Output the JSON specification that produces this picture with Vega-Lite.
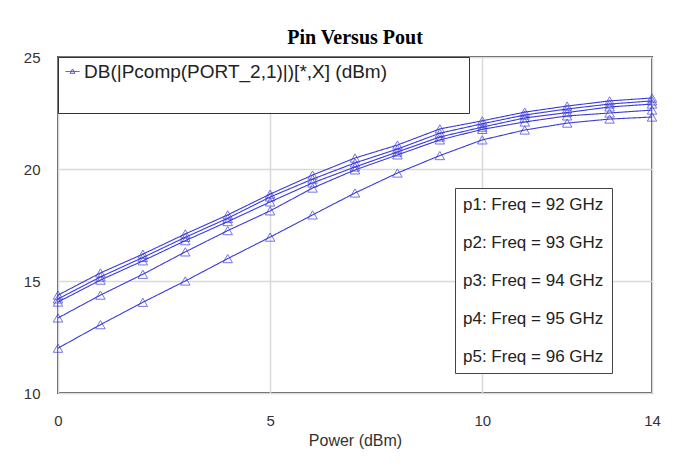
{
  "$schema": "https://vega.github.io/schema/vega-lite/v6.json",
  "autosize": {"type": "none"},
  "width": 594,
  "height": 336,
  "padding": {"left": 58, "top": 57, "right": 28, "bottom": 75},
  "background": "white",
  "title": {"text": "Pin Versus Pout", "font": "Liberation Serif", "fontSize": 20, "fontWeight": "bold", "color": "#000", "offset": 2, "anchor": "middle"},
  "config": {
    "view": {"stroke": "#555", "strokeWidth": 2},
    "axis": {"domain": false, "ticks": false, "tickSize": 0, "grid": true, "gridColor": "#d9d9d9", "gridWidth": 1.5, "labelFont": "Liberation Sans", "labelFontSize": 15, "labelColor": "#333", "titleFont": "Liberation Sans", "titleFontSize": 16, "titleFontWeight": "normal", "titleColor": "#333"}
  },
  "data": {"values": [
    {"f": "p1: Freq = 92 GHz", "x": 0, "y": 14.37}, {"f": "p1: Freq = 92 GHz", "x": 1, "y": 15.36}, {"f": "p1: Freq = 92 GHz", "x": 2, "y": 16.2}, {"f": "p1: Freq = 92 GHz", "x": 3, "y": 17.1}, {"f": "p1: Freq = 92 GHz", "x": 4, "y": 17.95}, {"f": "p1: Freq = 92 GHz", "x": 5, "y": 18.88}, {"f": "p1: Freq = 92 GHz", "x": 6, "y": 19.73}, {"f": "p1: Freq = 92 GHz", "x": 7, "y": 20.49}, {"f": "p1: Freq = 92 GHz", "x": 8, "y": 21.07}, {"f": "p1: Freq = 92 GHz", "x": 9, "y": 21.79}, {"f": "p1: Freq = 92 GHz", "x": 10, "y": 22.15}, {"f": "p1: Freq = 92 GHz", "x": 11, "y": 22.54}, {"f": "p1: Freq = 92 GHz", "x": 12, "y": 22.81}, {"f": "p1: Freq = 92 GHz", "x": 13, "y": 23.04}, {"f": "p1: Freq = 92 GHz", "x": 14, "y": 23.17},
    {"f": "p2: Freq = 93 GHz", "x": 0, "y": 14.2}, {"f": "p2: Freq = 93 GHz", "x": 1, "y": 15.18}, {"f": "p2: Freq = 93 GHz", "x": 2, "y": 16.05}, {"f": "p2: Freq = 93 GHz", "x": 3, "y": 16.95}, {"f": "p2: Freq = 93 GHz", "x": 4, "y": 17.8}, {"f": "p2: Freq = 93 GHz", "x": 5, "y": 18.75}, {"f": "p2: Freq = 93 GHz", "x": 6, "y": 19.55}, {"f": "p2: Freq = 93 GHz", "x": 7, "y": 20.27}, {"f": "p2: Freq = 93 GHz", "x": 8, "y": 20.89}, {"f": "p2: Freq = 93 GHz", "x": 9, "y": 21.6}, {"f": "p2: Freq = 93 GHz", "x": 10, "y": 22.02}, {"f": "p2: Freq = 93 GHz", "x": 11, "y": 22.41}, {"f": "p2: Freq = 93 GHz", "x": 12, "y": 22.68}, {"f": "p2: Freq = 93 GHz", "x": 13, "y": 22.9}, {"f": "p2: Freq = 93 GHz", "x": 14, "y": 23.04},
    {"f": "p3: Freq = 94 GHz", "x": 0, "y": 14.06}, {"f": "p3: Freq = 94 GHz", "x": 1, "y": 15.04}, {"f": "p3: Freq = 94 GHz", "x": 2, "y": 15.9}, {"f": "p3: Freq = 94 GHz", "x": 3, "y": 16.8}, {"f": "p3: Freq = 94 GHz", "x": 4, "y": 17.65}, {"f": "p3: Freq = 94 GHz", "x": 5, "y": 18.53}, {"f": "p3: Freq = 94 GHz", "x": 6, "y": 19.38}, {"f": "p3: Freq = 94 GHz", "x": 7, "y": 20.09}, {"f": "p3: Freq = 94 GHz", "x": 8, "y": 20.76}, {"f": "p3: Freq = 94 GHz", "x": 9, "y": 21.43}, {"f": "p3: Freq = 94 GHz", "x": 10, "y": 21.87}, {"f": "p3: Freq = 94 GHz", "x": 11, "y": 22.28}, {"f": "p3: Freq = 94 GHz", "x": 12, "y": 22.52}, {"f": "p3: Freq = 94 GHz", "x": 13, "y": 22.77}, {"f": "p3: Freq = 94 GHz", "x": 14, "y": 22.9},
    {"f": "p4: Freq = 95 GHz", "x": 0, "y": 13.35}, {"f": "p4: Freq = 95 GHz", "x": 1, "y": 14.37}, {"f": "p4: Freq = 95 GHz", "x": 2, "y": 15.3}, {"f": "p4: Freq = 95 GHz", "x": 3, "y": 16.3}, {"f": "p4: Freq = 95 GHz", "x": 4, "y": 17.25}, {"f": "p4: Freq = 95 GHz", "x": 5, "y": 18.13}, {"f": "p4: Freq = 95 GHz", "x": 6, "y": 19.15}, {"f": "p4: Freq = 95 GHz", "x": 7, "y": 19.96}, {"f": "p4: Freq = 95 GHz", "x": 8, "y": 20.63}, {"f": "p4: Freq = 95 GHz", "x": 9, "y": 21.3}, {"f": "p4: Freq = 95 GHz", "x": 10, "y": 21.77}, {"f": "p4: Freq = 95 GHz", "x": 11, "y": 22.1}, {"f": "p4: Freq = 95 GHz", "x": 12, "y": 22.37}, {"f": "p4: Freq = 95 GHz", "x": 13, "y": 22.5}, {"f": "p4: Freq = 95 GHz", "x": 14, "y": 22.63},
    {"f": "p5: Freq = 96 GHz", "x": 0, "y": 12.0}, {"f": "p5: Freq = 96 GHz", "x": 1, "y": 13.05}, {"f": "p5: Freq = 96 GHz", "x": 2, "y": 14.05}, {"f": "p5: Freq = 96 GHz", "x": 3, "y": 15.0}, {"f": "p5: Freq = 96 GHz", "x": 4, "y": 16.0}, {"f": "p5: Freq = 96 GHz", "x": 5, "y": 16.96}, {"f": "p5: Freq = 96 GHz", "x": 6, "y": 17.95}, {"f": "p5: Freq = 96 GHz", "x": 7, "y": 18.93}, {"f": "p5: Freq = 96 GHz", "x": 8, "y": 19.82}, {"f": "p5: Freq = 96 GHz", "x": 9, "y": 20.6}, {"f": "p5: Freq = 96 GHz", "x": 10, "y": 21.3}, {"f": "p5: Freq = 96 GHz", "x": 11, "y": 21.74}, {"f": "p5: Freq = 96 GHz", "x": 12, "y": 22.05}, {"f": "p5: Freq = 96 GHz", "x": 13, "y": 22.23}, {"f": "p5: Freq = 96 GHz", "x": 14, "y": 22.32}
  ]},
  "encoding": {
    "x": {"field": "x", "type": "quantitative", "scale": {"domain": [0, 14], "nice": false, "zero": false}, "axis": {"values": [0, 5, 10, 14], "labelPadding": 20, "title": "Power (dBm)", "titlePadding": 4, "labelFlush": false}},
    "y": {"field": "y", "type": "quantitative", "scale": {"domain": [10, 25], "nice": false, "zero": false}, "axis": {"values": [10, 15, 20, 25], "labelPadding": 18, "title": null}}
  },
  "layer": [
    {
      "mark": {"type": "line", "strokeWidth": 1.1},
      "encoding": {
        "color": {"field": "f", "type": "nominal", "scale": {"range": ["#3b3bd8", "#3b3bd8", "#3b3bd8", "#3b3bd8", "#3b3bd8"]},
          "legend": {"orient": "none", "legendX": 397, "legendY": 131, "title": null, "symbolSize": 0, "symbolOpacity": 0, "symbolStrokeWidth": 0, "labelOffset": -17, "labelFont": "Liberation Sans", "labelFontSize": 17, "labelColor": "#222", "labelLimit": 0, "rowPadding": 20, "padding": 8, "strokeColor": "#444", "fillColor": "white"}},
        "strokeDash": {"datum": "DB(|Pcomp(PORT_2,1)|)[*,X] (dBm)", "type": "nominal", "scale": {"range": [[1, 0]]},
          "legend": {"orient": "none", "legendX": 0, "legendY": 0, "title": "____________________________________", "titleOpacity": 0, "titleOrient": "bottom", "titleFontSize": 20, "titlePadding": 6, "titleLimit": 0, "symbolType": "M-1,0H1M-0.35,0.25L0,-0.35L0.35,0.25Z", "symbolSize": 196, "symbolStrokeColor": "#3b3bd8", "symbolFillColor": "transparent", "symbolStrokeWidth": 1, "labelFont": "Liberation Sans", "labelFontSize": 19, "labelColor": "#222", "labelOffset": 2, "labelLimit": 0, "padding": 5, "strokeColor": "#333", "fillColor": "white"}}
      }
    },
    {
      "mark": {"type": "point", "shape": "triangle-up", "filled": false, "color": "#3b3bd8", "size": 90, "strokeWidth": 1},
      "encoding": {"detail": {"field": "f", "type": "nominal"}}
    }
  ]
}
